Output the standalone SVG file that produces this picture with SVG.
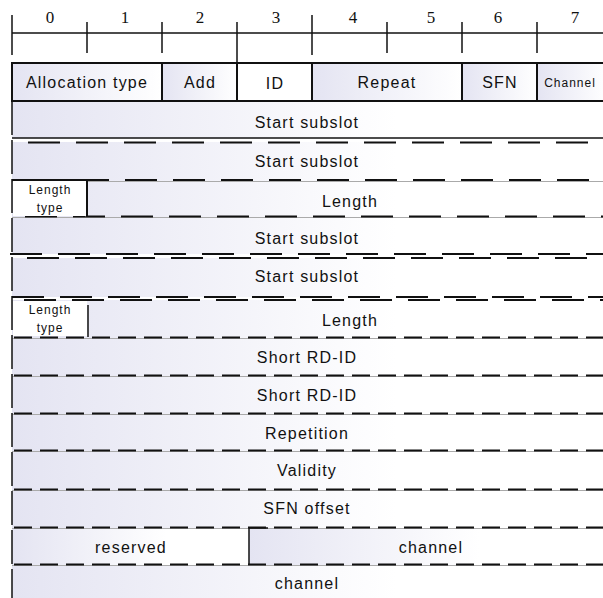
<svg xmlns="http://www.w3.org/2000/svg" width="603" height="598" viewBox="0 0 603 598">
<defs>
<linearGradient id="gc" x1="0" y1="0" x2="1" y2="0">
<stop offset="0" stop-color="#e4e4f2"/>
<stop offset="1" stop-color="#ffffff"/>
</linearGradient>
<linearGradient id="gr" x1="0" y1="0" x2="1" y2="0">
<stop offset="0" stop-color="#e4e4f2"/>
<stop offset="0.65" stop-color="#ffffff"/>
</linearGradient>
</defs>
<style>
.t{font-family:"Liberation Sans",Arial,sans-serif;font-size:16px;letter-spacing:1.2px;fill:#111;text-anchor:middle}
.s{font-family:"Liberation Sans",Arial,sans-serif;font-size:12px;letter-spacing:1px;fill:#111;text-anchor:middle}
.n{font-family:"Liberation Serif","Times New Roman",serif;font-size:17px;fill:#111;text-anchor:middle}
.k{stroke:#111;stroke-width:1.5;fill:none}
.c{stroke:#111;stroke-width:2;fill:url(#gc)}
.w{stroke:#111;stroke-width:2;fill:#fff}
.row{fill:url(#gr);stroke:none}
.dl{stroke:#111;stroke-width:2;stroke-dasharray:32 16;fill:none}
.ds{stroke:#111;stroke-width:2;stroke-dasharray:18 8;fill:none}
.g{stroke:#aaa;stroke-width:1;fill:none}
</style>
<g id="ruler">
<line class="k" x1="12" y1="33" x2="603" y2="33"/>
<line class="k" x1="12" y1="15" x2="12" y2="55"/>
<line class="k" x1="87" y1="22" x2="87" y2="53"/>
<line class="k" x1="162" y1="22" x2="162" y2="53"/>
<line class="k" x1="237" y1="22" x2="237" y2="63"/>
<line class="k" x1="312" y1="15" x2="312" y2="55"/>
<line class="k" x1="387" y1="22" x2="387" y2="53"/>
<line class="k" x1="462" y1="22" x2="462" y2="53"/>
<line class="k" x1="537" y1="22" x2="537" y2="53"/>
<text class="n" x="50" y="23">0</text>
<text class="n" x="125" y="23">1</text>
<text class="n" x="200" y="23">2</text>
<text class="n" x="276" y="23">3</text>
<text class="n" x="353" y="23">4</text>
<text class="n" x="431" y="23">5</text>
<text class="n" x="498" y="23">6</text>
<text class="n" x="575" y="23">7</text>
</g>
<g id="rows">
<rect class="row" x="12" y="101" width="591" height="37"/>
<rect class="row" x="12" y="142" width="591" height="38"/>
<rect class="row" x="12" y="180" width="591" height="37"/>
<rect class="row" x="12" y="217" width="591" height="37"/>
<rect class="row" x="12" y="258" width="591" height="39"/>
<rect class="row" x="12" y="300" width="591" height="38"/>
<rect class="row" x="12" y="338" width="591" height="38"/>
<rect class="row" x="12" y="376" width="591" height="38"/>
<rect class="row" x="12" y="414" width="591" height="37"/>
<rect class="row" x="12" y="451" width="591" height="39"/>
<rect class="row" x="12" y="490" width="591" height="38"/>
<rect class="row" x="12" y="528" width="237" height="37"/>
<rect class="row" x="249" y="528" width="354" height="37"/>
<rect class="row" x="12" y="565" width="591" height="33"/>
</g>
<g id="header">
<g id="alloc"><rect class="c" x="12" y="63" width="150" height="38"/><text class="t" x="87" y="88">Allocation type</text></g>
<g id="add"><rect class="c" x="162" y="63" width="75" height="38"/><text class="t" x="200" y="88">Add</text></g>
<g id="id"><rect class="w" x="237" y="63" width="75" height="38"/><text class="t" x="275" y="89">ID</text></g>
<g id="repeat"><rect class="c" x="312" y="63" width="150" height="38"/><text class="t" x="387" y="88">Repeat</text></g>
<g id="sfn"><rect class="c" x="462" y="63" width="75" height="38"/><text class="t" x="500" y="88">SFN</text></g>
<g id="channelh"><rect class="c" x="537" y="63" width="70" height="38"/><text class="s" x="570" y="87">Channel</text></g>
</g>
<g id="separators">
<line class="k" x1="12" y1="138" x2="603" y2="138" stroke-width="2"/>
<line class="dl" x1="28" y1="142.5" x2="603" y2="142.5"/>
<line class="g" x1="12" y1="181.5" x2="603" y2="181.5"/>
<line class="dl" x1="12" y1="180" x2="603" y2="180" stroke-dashoffset="-17"/>
<line class="g" x1="12" y1="217.5" x2="603" y2="217.5"/>
<line class="dl" x1="25" y1="216.5" x2="603" y2="216.5"/>
<line class="dl" x1="10" y1="254" x2="603" y2="254"/>
<line class="dl" x1="27" y1="258" x2="603" y2="258"/>
<line class="dl" x1="12" y1="297" x2="603" y2="297" stroke-dasharray="24 8"/>
<line class="dl" x1="24" y1="300" x2="603" y2="300" stroke-dasharray="24 8"/>
<line class="g" x1="12" y1="338.5" x2="603" y2="338.5"/>
<line class="ds" x1="14" y1="337.5" x2="603" y2="337.5"/>
<line class="g" x1="12" y1="376.5" x2="603" y2="376.5"/>
<line class="ds" x1="14" y1="375.5" x2="603" y2="375.5"/>
<line class="g" x1="12" y1="414.5" x2="603" y2="414.5"/>
<line class="ds" x1="14" y1="413.5" x2="603" y2="413.5"/>
<line class="g" x1="12" y1="451.5" x2="603" y2="451.5"/>
<line class="ds" x1="14" y1="450.5" x2="603" y2="450.5"/>
<line class="g" x1="12" y1="490.5" x2="603" y2="490.5"/>
<line class="ds" x1="14" y1="489.5" x2="603" y2="489.5"/>
<line class="g" x1="12" y1="528.5" x2="603" y2="528.5"/>
<line class="ds" x1="14" y1="527.5" x2="603" y2="527.5"/>
<line class="g" x1="12" y1="565.5" x2="603" y2="565.5"/>
<line class="ds" x1="14" y1="564.5" x2="603" y2="564.5"/>
<line class="k" x1="12" y1="101" x2="12" y2="598" stroke-width="2" stroke-dasharray="34 5"/>
<line class="k" x1="249" y1="527" x2="249" y2="565" stroke-width="2"/>
<line class="k" x1="249" y1="528" x2="268" y2="528" stroke-width="2"/>
</g>
<g id="f-start1"><text class="t" x="307" y="128">Start subslot</text></g>
<g id="f-start2"><text class="t" x="307" y="167">Start subslot</text></g>
<g id="f-lentype1"><path class="w" d="M12 180 H87 V217"/><rect x="13" y="181" width="73" height="35" fill="#fff"/><text class="s" x="50" y="194">Length</text><text class="s" x="50" y="212">type</text></g>
<g id="f-length1"><text class="t" x="350" y="207">Length</text></g>
<g id="f-start3"><text class="t" x="307" y="244">Start subslot</text></g>
<g id="f-start4"><text class="t" x="307" y="282">Start subslot</text></g>
<g id="f-lentype2"><rect x="13" y="301" width="74" height="35" fill="#fff"/><line class="k" x1="88" y1="305" x2="88" y2="337" stroke-width="2"/><text class="s" x="50" y="314">Length</text><text class="s" x="50" y="332">type</text></g>
<g id="f-length2"><text class="t" x="350" y="326">Length</text></g>
<g id="f-rd1"><text class="t" x="307" y="363">Short RD-ID</text></g>
<g id="f-rd2"><text class="t" x="307" y="401">Short RD-ID</text></g>
<g id="f-rep"><text class="t" x="307" y="439">Repetition</text></g>
<g id="f-val"><text class="t" x="307" y="476">Validity</text></g>
<g id="f-sfnoff"><text class="t" x="307" y="514">SFN offset</text></g>
<g id="f-res"><text class="t" x="131" y="553">reserved</text></g>
<g id="f-ch1"><text class="t" x="431" y="553">channel</text></g>
<g id="f-ch2"><text class="t" x="307" y="589">channel</text></g>
</svg>
